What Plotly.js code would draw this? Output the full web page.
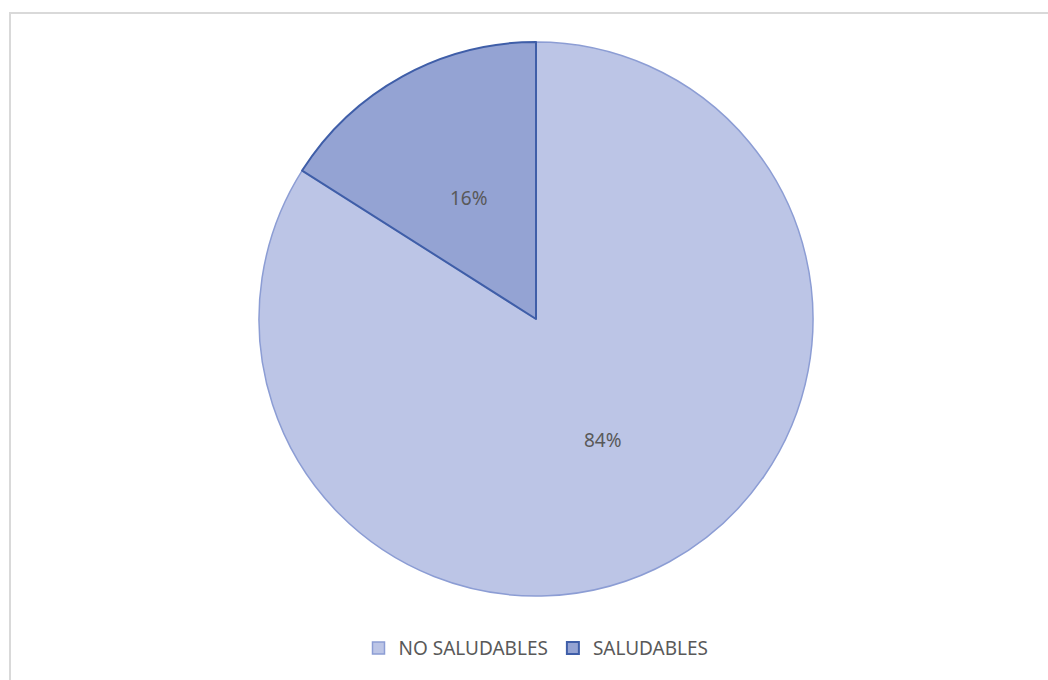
<!DOCTYPE html>
<html>
<head>
<meta charset="utf-8">
<script src="https://cdn.plot.ly/plotly-3.0.1.min.js"></script>
<style>
html,body{margin:0;padding:0;background:#fff;}
#wrap{position:relative;width:1048px;height:680px;overflow:hidden;}
#chart{width:1048px;height:680px;}
#frame{position:absolute;left:9px;top:12px;width:1100px;height:700px;border:2px solid #d9d9d9;box-sizing:border-box;pointer-events:none;}
</style>
</head>
<body>
<div id="wrap"><div id="chart"></div><div id="frame"></div></div>
<script>
const categories = ["NO SALUDABLES", "SALUDABLES"];
const values = [84, 16];
const fillColors = ["#bcc5e6", "#94a3d3"];
const lineColors = ["#8c9dd4", "#3f5ea8"];

const W = 1048, H = 680;
const margin = {l: 24, r: 0, t: 42, b: 84};
const plotW = W - margin.l - margin.r, plotH = H - margin.t - margin.b;
const R = Math.min(plotW, plotH) / 2;

const trace = {
  type: "pie",
  labels: categories,
  values: values,
  sort: false,
  direction: "clockwise",
  rotation: 0,
  textinfo: "none",
  marker: {colors: fillColors, line: {color: lineColors, width: [1.5, 2]}},
  hoverinfo: "label+percent"
};

// percentage labels at half radius along each slice's mid-angle (clockwise from 12 o'clock)
const total = values.reduce((a, b) => a + b, 0);
let cum = 0;
const annotations = values.map(v => {
  const mid = (cum + v / 2) / total * 2 * Math.PI;
  cum += v;
  return {
    xref: "paper", yref: "paper",
    x: 0.5 + 0.5 * R * Math.sin(mid) / plotW,
    y: 0.5 + 0.5 * R * Math.cos(mid) / plotH,
    text: Math.round(v / total * 100) + "%",
    showarrow: false,
    xanchor: "center", yanchor: "middle",
    font: {family: "Noto Sans, sans-serif", size: 19, color: "#595959"}
  };
});

const layout = {
  width: W,
  height: H,
  margin: margin,
  paper_bgcolor: "#ffffff",
  showlegend: true,
  annotations: annotations,
  legend: {
    orientation: "h",
    x: 0.5, xanchor: "center",
    yref: "container", y: 0.047, yanchor: "middle",
    font: {family: "Noto Sans, sans-serif", size: 19, color: "#595959"},
    itemwidth: 30
  }
};

Plotly.newPlot("chart", [trace], layout, {displayModeBar: false, staticPlot: true});
</script>
</body>
</html>
